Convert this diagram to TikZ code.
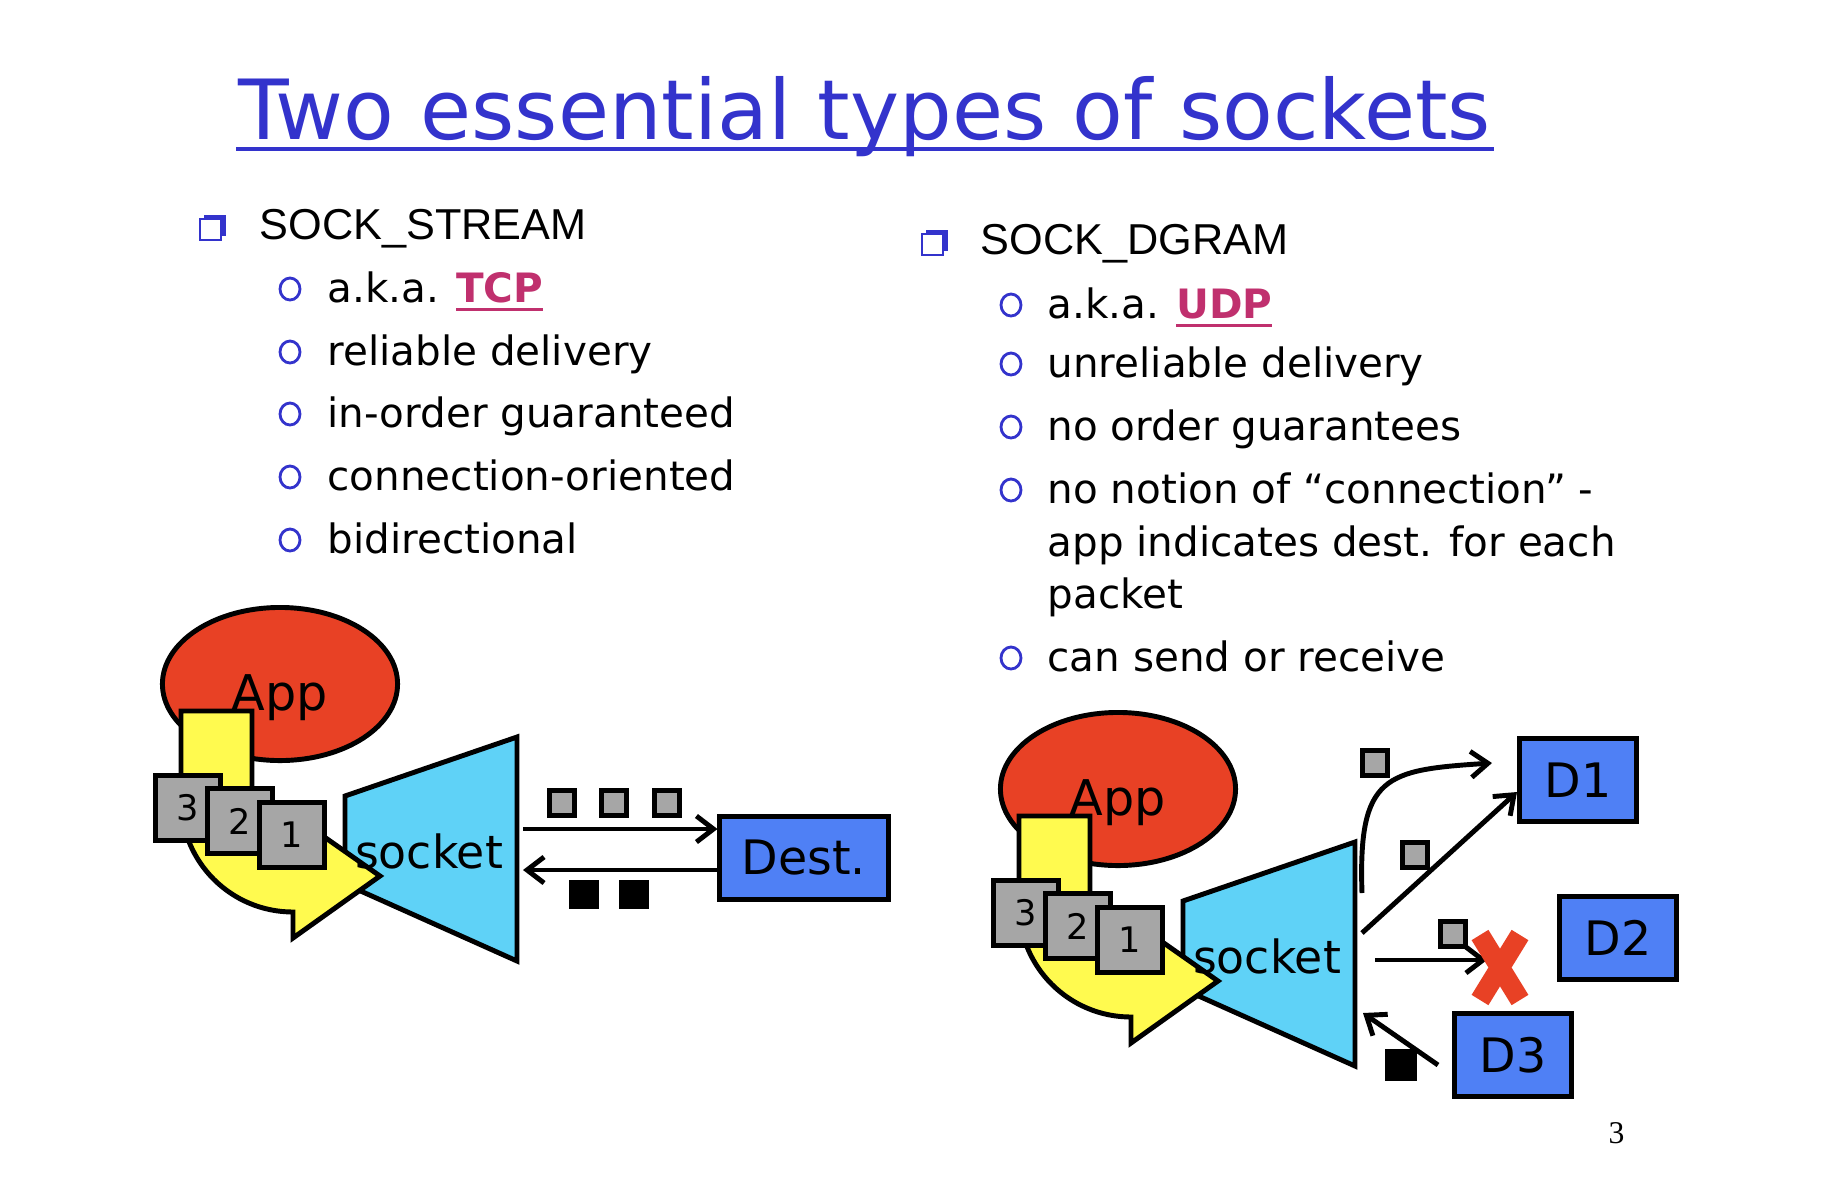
\documentclass[tikz,border=0pt]{standalone}
\usepackage{fontspec}
\setmainfont{DejaVu Sans}
\newfontfamily\headfont{Liberation Sans}
\newfontfamily\pagefont{Liberation Serif}
\usepackage{tikz}
\usetikzlibrary{arrows.meta,calc,shapes.geometric}
\usepackage{xcolor}
\definecolor{titleblue}{HTML}{3333CC}
\definecolor{appred}{HTML}{E84125}
\definecolor{arrowyellow}{HTML}{FFFA4F}
\definecolor{pktgray}{HTML}{A6A6A6}
\definecolor{sockcyan}{HTML}{5FD2F7}
\definecolor{destblue}{HTML}{4F80F5}
\definecolor{linkpink}{HTML}{C0306E}
\newcommand{\linkul}[1]{\textcolor{linkpink}{\bfseries\setbox0\hbox{#1}\rlap{\rule[-2.6pt]{\wd0}{0.8pt}}\box0}}
\tikzset{
  titletext/.style={anchor=base west, inner sep=0pt, text=titleblue, font=\fontsize{23.6}{28}\selectfont},
  titleline/.style={draw=titleblue, line width=1.2pt},
  headtext/.style={anchor=base west, inner sep=0pt, font=\headfont\fontsize{12.3}{15}\selectfont},
  itemtext/.style={anchor=base west, inner sep=0pt, font=\fontsize{11.5}{14}\selectfont},
  sqbullet/.pic={
    \fill[titleblue] (-7,-13) rectangle (15,8);
    \filldraw[fill=white, draw=titleblue, line width=0.5pt] (-11,-9) rectangle (10,12);
  },
  circbullet/.pic={\draw[titleblue, line width=0.8pt] (0,0) ellipse [x radius=10, y radius=11];},
  app/.style={ellipse, draw, line width=1.4pt, fill=appred, minimum width=2.35cm, minimum height=1.53cm, inner sep=0pt, text height=14.8pt, text depth=0pt, font=\fontsize{14}{16}\selectfont},
  sockshape/.style={draw, line width=1.4pt, fill=sockcyan, line join=miter},
  socklabel/.style={inner sep=0pt, font=\fontsize{13}{16}\selectfont},
  uturn/.style={draw, line width=1.4pt, fill=arrowyellow, line join=miter},
  packet/.style={draw, line width=1.4pt, fill=pktgray, minimum size=0.65cm, inner sep=0pt, font=\fontsize{10}{12}\selectfont},
  datasq/.style={draw, line width=1.2pt, fill=pktgray, minimum size=0.25cm, inner sep=0pt},
  acksq/.style={fill=black, minimum size=0.29cm, inner sep=0pt},
  dest/.style={draw, line width=1.4pt, fill=destblue, minimum height=0.83cm, inner sep=0pt, font=\fontsize{13.5}{16}\selectfont},
  arrow/.style={-{Straight Barb[length=1.7mm,width=2.6mm]}, line width=1.4pt},
  lost/.style={draw=appred, line width=5.6pt},
  pagenum/.style={anchor=base west, inner sep=0pt, font=\pagefont\fontsize{9}{11}\selectfont}
}
\begin{document}
\begin{tikzpicture}[x=0.01cm,y=-0.01cm]
\fill[white] (0,0) rectangle (1844,1202);
\useasboundingbox (0,0) rectangle (1844,1202);

% title
\node[titletext] (title) at (238,139) {Two essential types of sockets};
\draw[titleline] ($(title.base west)+(-2,10)$) -- ($(title.base east)+(3,10)$);

% left column
\pic at (211,228) {sqbullet};
\node[headtext] (streamhead) at (259,239) {SOCK\_STREAM};
\foreach \yb/\txt [count=\i] in {302/{a.k.a. \linkul{TCP}}, 365/{reliable delivery}, 427/{in-order guaranteed}, 490/{connection-oriented}, 553/{bidirectional}}{
  \pic at (290,\yb-13) {circbullet};
  \node[itemtext] (stream\i) at (327,\yb) {\txt};
}

% right column
\pic at (933,243) {sqbullet};
\node[headtext] (dgramhead) at (980,254) {SOCK\_DGRAM};
\foreach \yb/\txt [count=\i] in {318/{a.k.a. \linkul{UDP}}, 377/{unreliable delivery}, 440/{no order guarantees}, 503/{no notion of “connection” -}, 671/{can send or receive}}{
  \pic at (1011,\yb-13) {circbullet};
  \node[itemtext] (dgram\i) at (1047,\yb) {\txt};
}
\node[itemtext] (dgram4b) at (1047,556) {app indicates dest. for each};
\node[itemtext] (dgram4c) at (1047,608) {packet};

% app + socket, twice
\foreach \s/\dx/\dy in {L/0/0,R/838/105}{
  \begin{scope}[shift={(\dx,\dy)}]
    \node[app] (app\s) at (280,684) {App};
    \filldraw[sockshape] (345,796) -- (517,737) -- (517,961) -- (345,884) -- cycle;
    \filldraw[uturn] (181,711) -- (252,711) -- (252,800) .. controls (252,823) and (270,841) .. (293,841)
      -- (293,815) -- (380,876) -- (293,938) -- (293,912) .. controls (231,912) and (181,862) .. (181,800) -- cycle;
    \node[packet] (pk\s3) at (188,808) {3};
    \node[packet] (pk\s2) at (240,821) {2};
    \node[packet] (pk\s1) at (292,835) {1};
    \node[socklabel] (sock\s) at (429,851) {socket};
  \end{scope}
}

% stream side
\node[dest, minimum width=1.68cm] (dest) at (804,858) {Dest.};
\coordinate (txL) at (523,829);
\coordinate (rxL) at (523,870);
\draw[arrow] (txL) -- (txL -| dest.west);
\draw[arrow] (rxL -| dest.west) -- (rxL);
\node[datasq] (seg1) at (562,803) {};
\node[datasq] (seg2) at (614,803) {};
\node[datasq] (seg3) at (667,803) {};
\node[acksq] (ack1) at (584,894) {};
\node[acksq] (ack2) at (634,894) {};

% datagram side
\node[dest, minimum width=1.17cm] (D1) at (1578,780) {D1};
\node[dest, minimum width=1.17cm] (D2) at (1618,938) {D2};
\node[dest, minimum width=1.17cm] (D3) at (1513,1055) {D3};
\coordinate (up) at (1362,893);
\coordinate (upend) at (1492,763);
\coordinate (mid) at (1362,933);
\coordinate (low) at (1375,960);
\coordinate (lowend) at (1487,960);
\coordinate (back) at (1363,1013);
\draw[arrow] (up) .. controls (1358,775) and (1385,770) .. (upend);
\draw[arrow] (mid) -- ($(D1.west)+(0,12)$);
\draw[arrow] (low) -- (lowend);
\draw[arrow] ($(D3.west)+(-14,10)$) -- (back);
\node[datasq] (dg1) at (1375,763) {};
\node[datasq] (dg2) at (1415,855) {};
\node[datasq] (dg3) at (1453,934) {};
\node[acksq, minimum size=0.32cm] (dg4) at (1401,1065) {};
\draw[lost] (1480,935) -- (1520,1000) (1520,935) -- (1480,1000);

\node[pagenum] (page) at (1608,1143) {3};
\end{tikzpicture}
\end{document}
